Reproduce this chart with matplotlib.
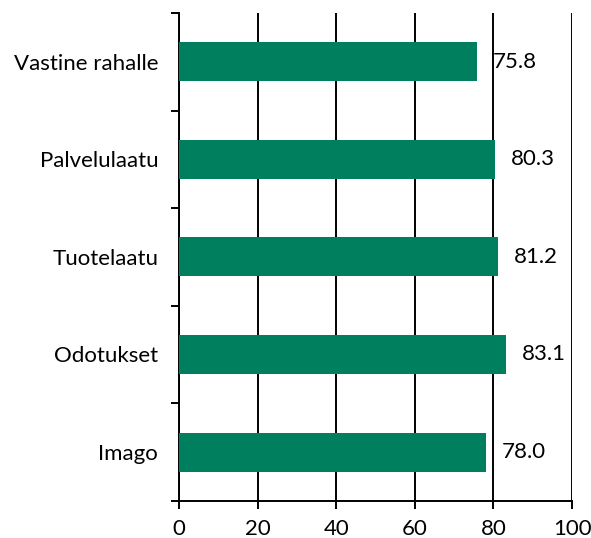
import numpy as np
import matplotlib
matplotlib.use("Agg")
import matplotlib.pyplot as plt

plt.rcParams['font.family'] = ['Lato', 'DejaVu Sans']

# Tiedot (ylhäältä alas)
categories = ["Vastine rahalle", "Palvelulaatu", "Tuotelaatu", "Odotukset", "Imago"]
values = [75.8, 80.3, 81.2, 83.1, 78.0]
xticks = [0, 20, 40, 60, 80, 100]

green = "#007F5F"
fs = 16

fig = plt.figure(figsize=(5.91, 5.38), dpi=100)
ax = fig.add_axes([0.303, 0.069, 0.665, 0.907])

y = np.arange(len(categories))[::-1]
ax.barh(y, values, height=0.4, color=green, zorder=3)

for yi, v in zip(y, values):
    ax.text(v + 4, yi, f"{v:.1f}", va="center", ha="left", fontsize=fs, zorder=4)

ax.set_xlim(0, 100)
ax.set_ylim(-0.5, len(categories) - 0.5)
ax.set_xticks(xticks)
ax.set_xticklabels([str(t) for t in xticks], fontsize=fs)

# kategorianimet keskelle, tikit väleihin
ax.set_yticks(y)
ax.set_yticklabels(categories, fontsize=fs)
ax.tick_params(axis='y', which='major', length=0, pad=15)
ax.set_yticks(np.arange(-0.5, len(categories), 1), minor=True)
ax.tick_params(axis='y', which='minor', length=6, width=1.4, direction='out')
ax.tick_params(axis='x', length=6, width=1.4, direction='out', pad=7)

ax.grid(axis='x', color='black', linewidth=1.4, zorder=0)
for s in ['top', 'right']:
    ax.spines[s].set_visible(False)
for s in ['left', 'bottom']:
    ax.spines[s].set_linewidth(1.4)

fig.savefig("out.png", dpi=100)
